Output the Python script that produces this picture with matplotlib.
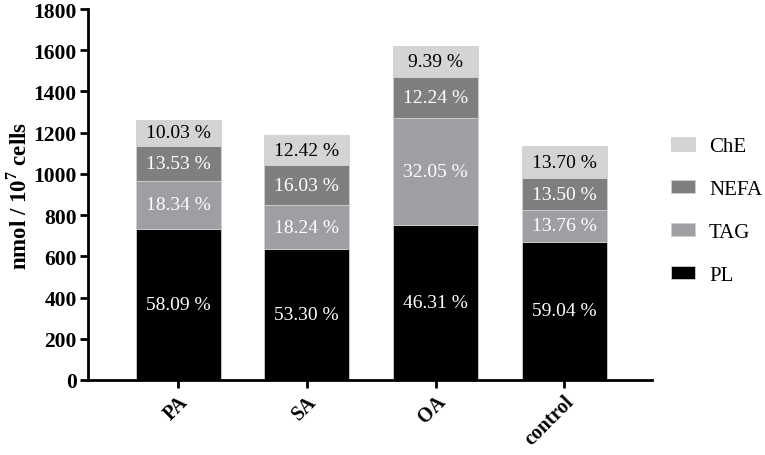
import matplotlib
matplotlib.use('Agg')
import numpy as np
import matplotlib.pyplot as plt

# datos
grupos = ['PA', 'SA', 'OA', 'control']
totales = [1263, 1189, 1622, 1134]
pct_PL = [58.09, 53.30, 46.31, 59.04]
pct_TAG = [18.34, 18.24, 32.05, 13.76]
pct_NEFA = [13.53, 16.03, 12.24, 13.50]
pct_ChE = [10.03, 12.42, 9.39, 13.70]

plt.rcParams['font.family'] = ['Liberation Serif', 'DejaVu Serif']
plt.rcParams['mathtext.fontset'] = 'custom'
plt.rcParams['mathtext.bf'] = 'Liberation Serif:bold'

capas = [('PL', pct_PL, '#000000', 'white'),
         ('TAG', pct_TAG, '#9e9ea3', 'white'),
         ('NEFA', pct_NEFA, '#7f7f7f', 'white'),
         ('ChE', pct_ChE, '#d4d4d4', 'black')]

fig = plt.figure(figsize=(7.65, 4.56), dpi=100)
ax = fig.add_axes([0.115, 0.1645, 0.737, 0.8135])

x = np.arange(len(grupos))
base = np.zeros(len(grupos))
handles = []
for nombre, pct, color, tcolor in capas:
    alto = np.array(totales) * np.array(pct) / 100
    b = ax.bar(x, alto, 0.66, bottom=base, color=color, edgecolor='#d0d0d0',
               linewidth=0.6, label=nombre)
    handles.append(b)
    for xi, bi, hi, p in zip(x, base, alto, pct):
        ax.text(xi, bi + hi / 2, '%.2f %%' % p, ha='center', va='center',
                color=tcolor, fontsize=14)
    base = base + alto

ax.set_xlim(-0.7, 3.68)
ax.set_ylim(0, 1800)
ax.set_yticks(range(0, 1801, 200))
ax.set_xticks(x)
ax.set_xticklabels(grupos, rotation=45, ha='right', rotation_mode='anchor',
                   fontsize=14.5, fontweight='bold')
for lbl in ax.get_yticklabels():
    lbl.set_fontweight('bold')
    lbl.set_fontsize(15.5)
ax.set_ylabel('nmol / 10$^{\\mathbf{7}}$ cells', fontsize=16.5, fontweight='bold')
ax.yaxis.set_label_coords(-0.1, 0.5)

for s in ['top', 'right']:
    ax.spines[s].set_visible(False)
for s in ['left', 'bottom']:
    ax.spines[s].set_linewidth(2)
ax.tick_params(axis='both', width=2, length=6, pad=2)

ax.legend(handles[::-1], [c[0] for c in capas][::-1], frameon=False,
          loc='center left', bbox_to_anchor=(1.02, 0.455), fontsize=15,
          handlelength=1.15, handleheight=0.6, labelspacing=1.15, handletextpad=0.65,
          borderaxespad=0)

fig.savefig('out.png', dpi=100)
